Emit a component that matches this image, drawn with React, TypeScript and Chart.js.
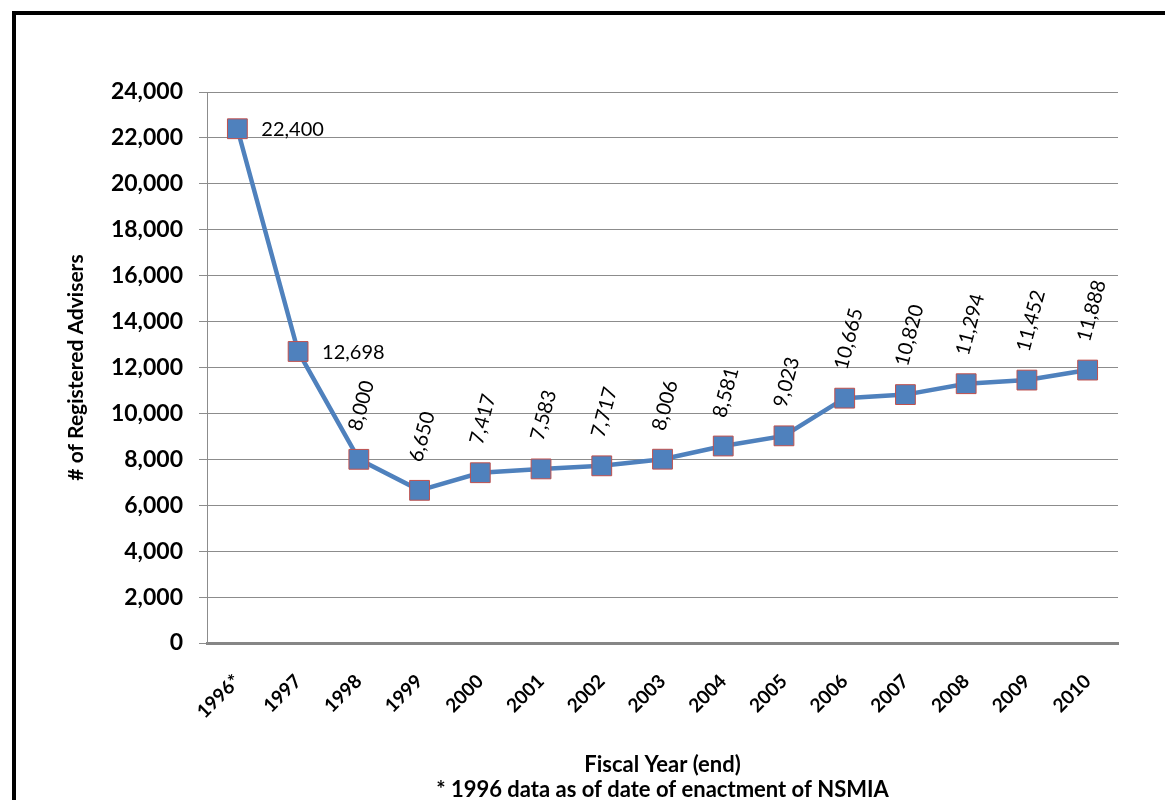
import React, { useEffect, useRef } from 'react';
import { Chart, registerables } from 'chart.js';

Chart.register(...registerables);

const categories = ['1996*', '1997', '1998', '1999', '2000', '2001', '2002', '2003', '2004', '2005', '2006', '2007', '2008', '2009', '2010'];
const advisers = [22400, 12698, 8000, 6650, 7417, 7583, 7717, 8006, 8581, 9023, 10665, 10820, 11294, 11452, 11888];
const horizontalLabelCount = 2;
const yTitle = '# of Registered Advisers';
const xTitleLines = ['Fiscal Year (end)', '* 1996 data as of date of enactment of NSMIA'];
const yMin = 0;
const yMax = 24000;
const yStep = 2000;

const fmt = (v: number) => Number(v).toLocaleString('en-US');

const pointLabelPlugin = {
  id: 'pointLabels',
  afterDatasetsDraw(chart: any) {
    const ctx = chart.ctx;
    const meta = chart.getDatasetMeta(0);
    ctx.save();
    ctx.font = '20px Lato';
    ctx.fillStyle = '#000';
    meta.data.forEach((pt: any, i: number) => {
      const text = fmt(advisers[i]);
      if (i < horizontalLabelCount) {
        ctx.textAlign = 'left';
        ctx.textBaseline = 'middle';
        ctx.fillText(text, pt.x + 24, pt.y + 1);
      } else {
        ctx.save();
        ctx.translate(pt.x - 4, pt.y - 29);
        ctx.rotate((-75 * Math.PI) / 180);
        ctx.textAlign = 'left';
        ctx.textBaseline = 'middle';
        ctx.fillText(text, 0, 0);
        ctx.restore();
      }
    });
    ctx.restore();
  },
};

export default function App() {
  const canvasRef = useRef<HTMLCanvasElement | null>(null);

  useEffect(() => {
    if (!canvasRef.current) return;
    const chart = new Chart(canvasRef.current, {
      type: 'line',
      data: {
        labels: categories,
        datasets: [
          {
            data: advisers,
            borderColor: '#4F81BD',
            borderWidth: 4.5,
            pointStyle: 'rect',
            pointRadius: 14,
            pointHoverRadius: 14,
            pointBackgroundColor: '#4F81BD',
            pointBorderColor: '#C0504D',
            pointBorderWidth: 1,
            tension: 0,
            fill: false,
          },
        ],
      },
      options: {
        responsive: false,
        animation: false,
        events: [],
        layout: { padding: { top: 92, right: 47, left: 0, bottom: 0 } },
        plugins: { legend: { display: false }, tooltip: { enabled: false } },
        scales: {
          x: {
            offset: true,
            grid: { display: false, drawTicks: false },
            border: { display: true, color: '#868686', width: 3 },
            ticks: {
              color: '#000',
              font: { family: 'Lato', weight: 'bold', size: 19 },
              maxRotation: 45,
              minRotation: 45,
              padding: 27,
              autoSkip: false,
            },
            title: {
              display: true,
              text: xTitleLines,
              color: '#000',
              font: { family: 'Lato', weight: 'bold', size: 22, lineHeight: 1.15 },
              padding: { top: 0, bottom: -3 },
            },
            afterFit(scale: any) {
              scale.height = 157;
            },
          },
          y: {
            min: yMin,
            max: yMax,
            ticks: {
              stepSize: yStep,
              padding: 16,
              color: '#000',
              font: { family: 'Lato', weight: 'bold', size: 23 },
              callback: (v: any) => fmt(v),
            },
            grid: { color: '#8c8c8c', lineWidth: 1, tickLength: 8, drawTicks: true },
            border: { display: true, color: '#8c8c8c', width: 1 },
            title: {
              display: true,
              text: yTitle,
              color: '#000',
              font: { family: 'Lato', weight: 'bold', size: 21, lineHeight: 1.2 },
              padding: { top: 64, bottom: 0 },
            },
            afterFit(scale: any) {
              scale.width = 207;
            },
          },
        },
      },
      plugins: [pointLabelPlugin],
    });
    return () => chart.destroy();
  }, []);

  return (
    <div style={{ position: 'fixed', left: 0, top: 0, width: 1165, height: 800, overflow: 'hidden', background: '#fff' }}>
      <div
        style={{
          position: 'absolute',
          left: 12,
          top: 11,
          width: 2000,
          height: 2000,
          border: '4px solid #000',
          boxSizing: 'border-box',
        }}
      />
      <canvas
        ref={canvasRef}
        width={1165}
        height={800}
        style={{ position: 'absolute', left: 0, top: 0, width: 1165, height: 800, display: 'block' }}
      />
    </div>
  );
}
